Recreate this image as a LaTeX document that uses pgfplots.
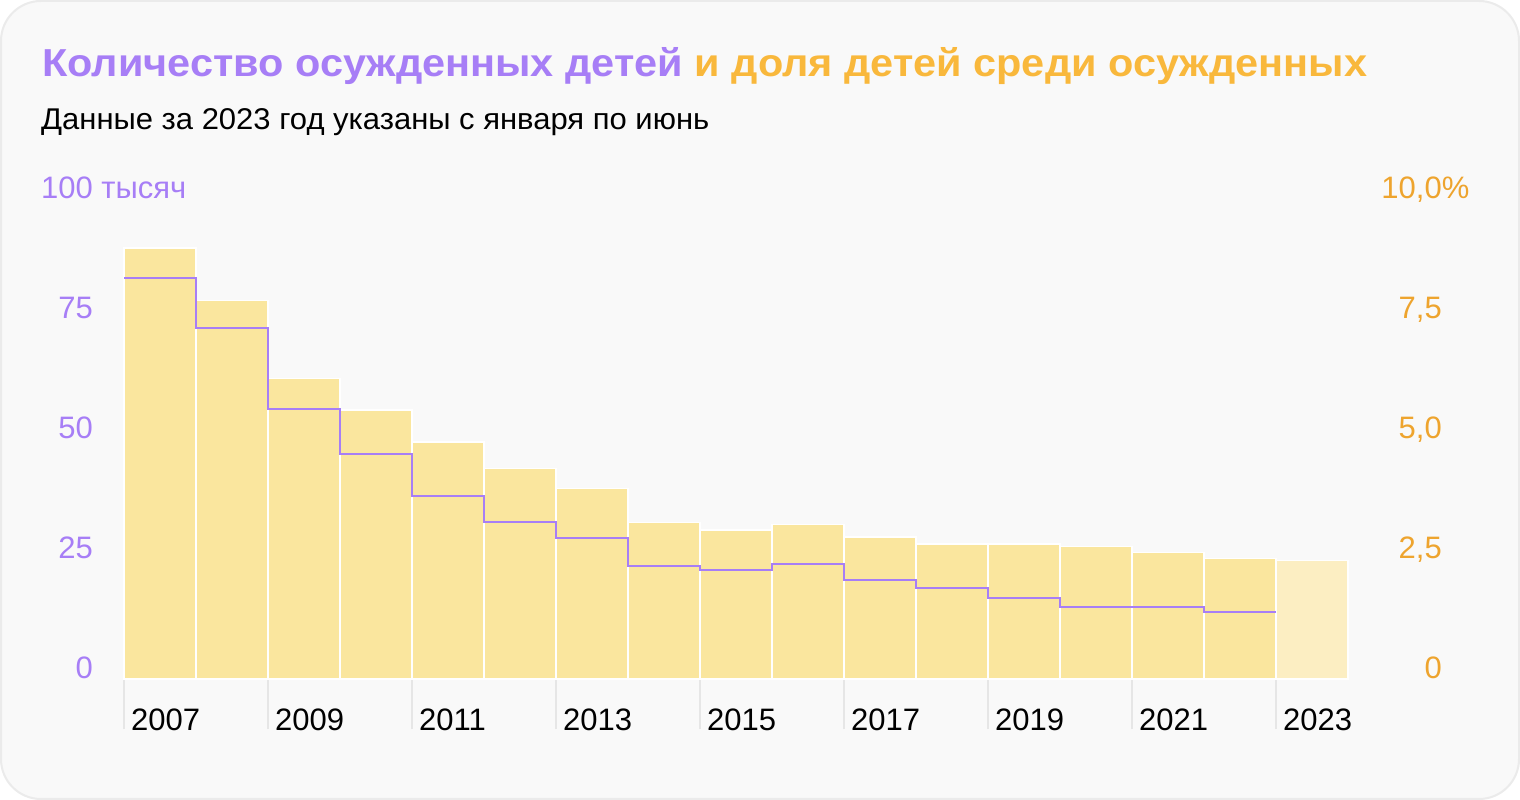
\documentclass[border=0pt]{standalone}
\usepackage{pgfplots}
\pgfplotsset{compat=1.18}
\usepackage{fontspec}
\setmainfont{Liberation Sans}
\definecolor{purp}{HTML}{A77EF6}
\definecolor{orng}{HTML}{F9B83C}
\definecolor{orngtick}{HTML}{EEA42E}
\definecolor{barc}{HTML}{FAE69E}
\definecolor{barl}{HTML}{FCEEC2}
\definecolor{cardbg}{HTML}{F9F9F9}
\definecolor{cardln}{HTML}{EBEBEB}
\definecolor{tickg}{HTML}{E6E6E6}
\begin{document}
\begin{tikzpicture}[x=1pt,y=1pt]
\fill[white] (0pt,0pt) rectangle (1520pt,800pt);
\draw[cardln, line width=2pt, fill=cardbg, rounded corners=40pt] (1pt,1pt) rectangle (1519pt,799pt);
\node[anchor=base west, inner sep=0pt] at (42pt,723pt) {\scalebox{1.063}[1]{\fontsize{39}{46}\selectfont\bfseries\textcolor{purp}{Количество осужденных детей} \textcolor{orng}{и доля детей среди осужденных}}};
\node[anchor=base west, inner sep=0pt] at (41pt,670pt) {\scalebox{1.033}[1]{\fontsize{30}{35}\selectfont Данные за 2023 год указаны с января по июнь}};
% bars: share of children among convicted, %
\begin{axis}[
  at={(124pt,121pt)}, anchor=south west, scale only axis,
  width=1224pt, height=480pt,
  xmin=0, xmax=17, ymin=0, ymax=10,
  axis line style={draw=none},
  /pgf/number format/assume math mode=true,
  xtick={0,2,4,6,8,10,12,14,16},
  xticklabels={2007,2009,2011,2013,2015,2017,2019,2021,2023},
  xtick pos=left, tick align=outside, major tick length=50pt,
  xtick style={draw=tickg, line width=1.5pt},
  xticklabel style={anchor=base west, inner sep=0pt, xshift=7pt, yshift=-1pt, font=\fontsize{31}{36}\selectfont, text=black},
  ytick={0,2.5,5,7.5,10},
  yticklabels={0,{2,5},{5,0},{7,5},{10,0\rlap{\%}}},
  ytick pos=right, yticklabel pos=right,
  ytick style={draw=none},
  yticklabel style={anchor=base east, inner sep=0pt, xshift=44pt, font=\fontsize{31}{36}\selectfont, text=orngtick},
  clip=false,
]
\addplot[ybar, bar width=72pt, bar shift=0pt, fill=barc, draw=white, line width=1.5pt] coordinates {
(0.5,8.98) (1.5,7.89) (2.5,6.26) (3.5,5.60) (4.5,4.94) (5.5,4.39) (6.5,3.97) (7.5,3.26)
(8.5,3.10) (9.5,3.22) (10.5,2.96) (11.5,2.81) (12.5,2.81) (13.5,2.76) (14.5,2.64) (15.5,2.51)};
\addplot[ybar, bar width=72pt, bar shift=0pt, fill=barl, draw=white, line width=1.5pt] coordinates {(16.5,2.47)};
\end{axis}
% line: number of convicted children, thousands
\begin{axis}[
  at={(124pt,121pt)}, anchor=south west, scale only axis,
  width=1224pt, height=480pt,
  xmin=0, xmax=17, ymin=0, ymax=100,
  axis line style={draw=none},
  /pgf/number format/assume math mode=true,
  hide x axis,
  ytick={0,25,50,75,100},
  yticklabels={0,25,50,75,100\rlap{ тысяч}},
  ytick pos=left, yticklabel pos=left,
  ytick style={draw=none},
  yticklabel style={anchor=base east, inner sep=0pt, xshift=-31pt, font=\fontsize{31}{36}\selectfont, text=purp},
  clip=false,
]
\addplot[const plot, color=purp, line width=2pt] coordinates {
(0,83.6) (1,73.2) (2,56.2) (3,46.9) (4,38.2) (5,32.8) (6,29.4) (7,23.6)
(8,22.8) (9,24.0) (10,20.7) (11,19.0) (12,16.9) (13,14.9) (14,14.9) (15,14.0) (16,14.0)};
\end{axis}
\useasboundingbox (0pt,0pt) rectangle (1520pt,800pt);
\end{tikzpicture}
\end{document}
